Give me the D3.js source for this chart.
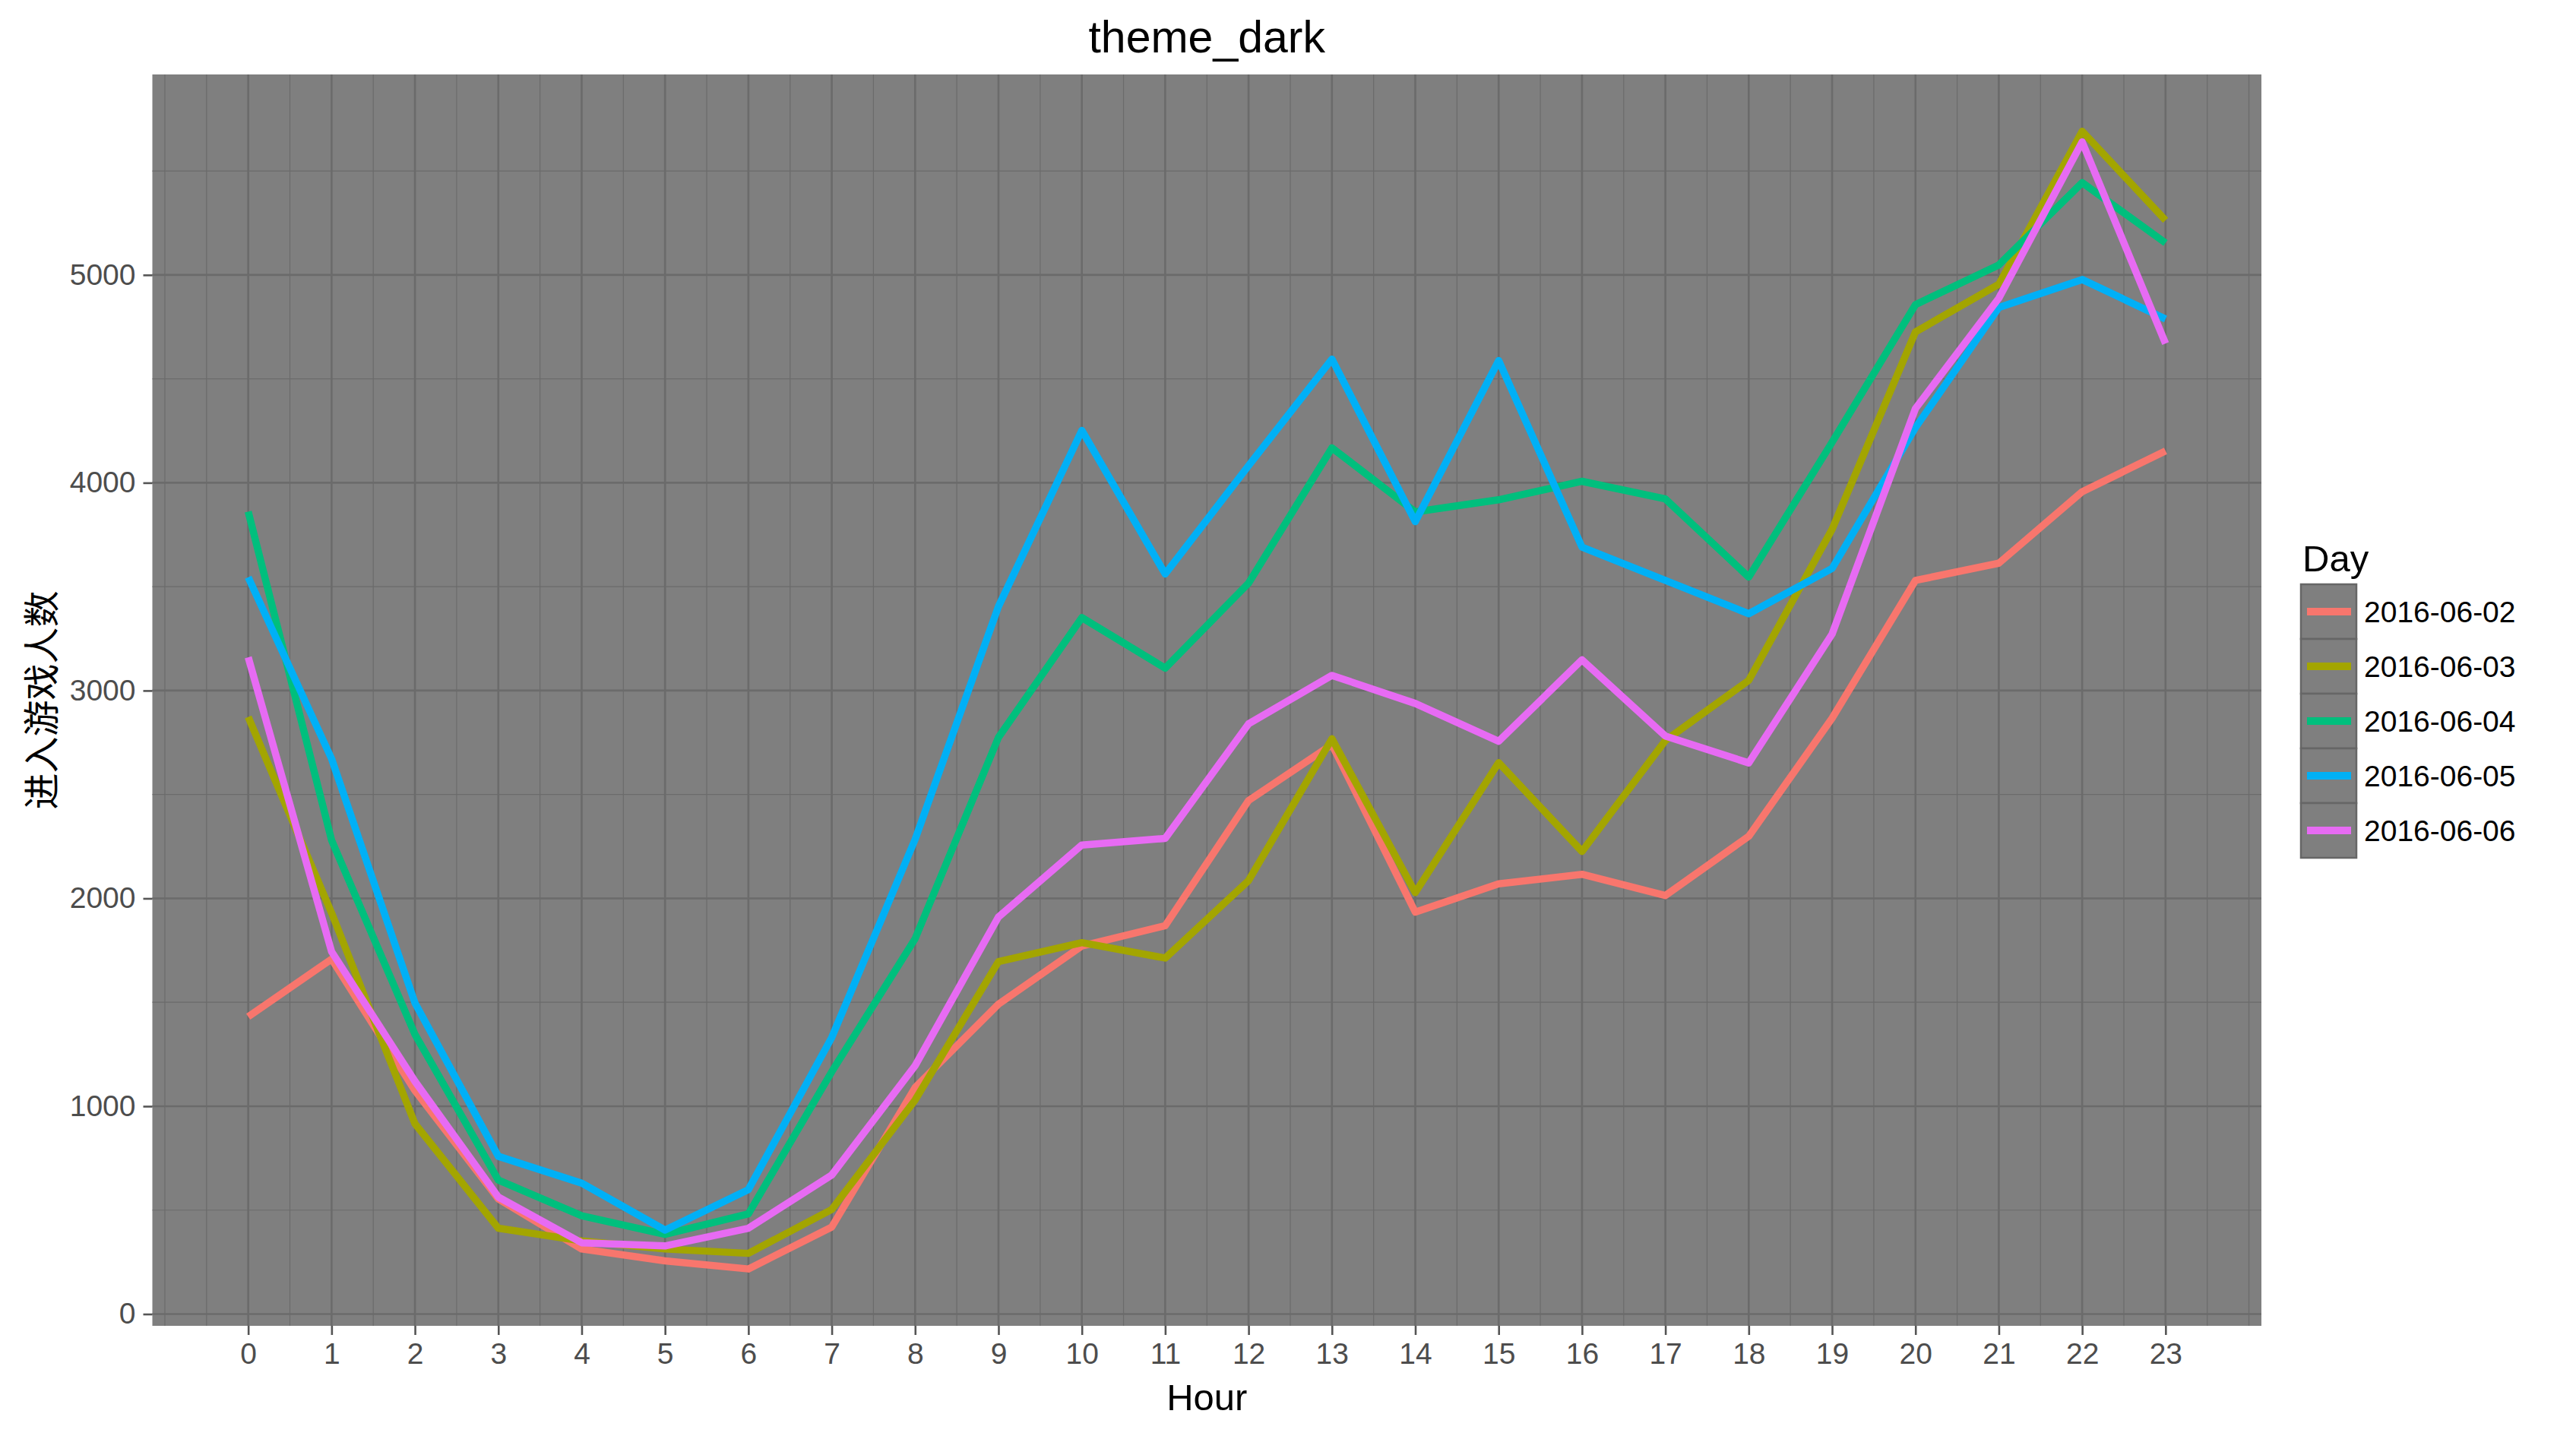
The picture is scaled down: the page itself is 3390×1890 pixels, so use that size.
<!DOCTYPE html>
<html>
<head>
<meta charset="utf-8">
<script src="https://cdn.jsdelivr.net/npm/d3@7"></script>
<style>
  body { margin: 0; background: #fff; }
  text { font-family: "Liberation Sans", Arial, sans-serif; }
</style>
</head>
<body>
<div id="chart"></div>
<script>
// Chart data
const hours = [0, 1, 2, 3, 4, 5, 6, 7, 8, 9, 10, 11, 12, 13, 14, 15, 16, 17, 18, 19, 20, 21, 22, 23];
const days = ["2016-06-02", "2016-06-03", "2016-06-04", "2016-06-05", "2016-06-06"];
const dayColors = ["#F8766D", "#A3A500", "#00BF7D", "#00B0F6", "#E76BF3"];

const day0602 = [1431, 1708, 1075, 554, 313, 256, 217, 419, 1090, 1491, 1771, 1869, 2471, 2740, 1934, 2070, 2116, 2014, 2299, 2867, 3530, 3613, 3957, 4153];
const day0603 = [2873, 1930, 916, 413, 352, 313, 292, 503, 1030, 1696, 1787, 1713, 2086, 2768, 2028, 2653, 2226, 2760, 3049, 3776, 4726, 4955, 5691, 5263];
const day0604 = [3861, 2280, 1346, 645, 473, 383, 482, 1166, 1806, 2775, 3351, 3108, 3517, 4168, 3860, 3918, 4007, 3922, 3546, 4195, 4857, 5048, 5444, 5154];
const day0605 = [3545, 2672, 1497, 759, 630, 404, 599, 1331, 2284, 3405, 4252, 3561, 4082, 4595, 3813, 4588, 3690, 3530, 3370, 3588, 4265, 4843, 4978, 4788];
const day0606 = [3160, 1744, 1120, 563, 343, 328, 413, 669, 1195, 1911, 2257, 2289, 2840, 3073, 2938, 2756, 3148, 2781, 2652, 3272, 4357, 4888, 5640, 4670];

const seriesValues = [day0602, day0603, day0604, day0605, day0606];
const yTicks = [0, 1000, 2000, 3000, 4000, 5000];

const titleText = "theme_dark";
const xTitle = "Hour";
const yTitle = "进入游戏人数";
const legendTitle = "Day";

// Layout
const width = 3390, height = 1890;
const panel = { left: 200.5, right: 2976, top: 98, bottom: 1745 };

const svg = d3.select("#chart").append("svg")
    .attr("width", width)
    .attr("height", height)
    .style("display", "block");

svg.append("rect").attr("width", width).attr("height", height).attr("fill", "#ffffff");

// ggplot style expansion: 5% on each side
function expand(ext) {
    const pad = (ext[1] - ext[0]) * 0.05;
    return [ext[0] - pad, ext[1] + pad];
}

const allValues = seriesValues.flat();
const x = d3.scaleLinear()
    .domain(expand(d3.extent(hours)))
    .range([panel.left, panel.right]);
const y = d3.scaleLinear()
    .domain(expand(d3.extent(allValues)))
    .range([panel.bottom, panel.top]);

// minor breaks: halfway between majors, extended one step past the ends
function minorBreaks(major, scale) {
    const step = major[1] - major[0];
    const ext = [major[0] - step].concat(major, [major[major.length - 1] + step]);
    const out = [];
    for (let i = 0; i < ext.length - 1; i++) {
        out.push(ext[i], (ext[i] + ext[i + 1]) / 2);
    }
    out.push(ext[ext.length - 1]);
    const dom = scale.domain();
    return out.filter(v => v >= dom[0] && v <= dom[1]);
}

// Panel background
svg.append("rect")
    .attr("x", panel.left)
    .attr("y", panel.top)
    .attr("width", panel.right - panel.left)
    .attr("height", panel.bottom - panel.top)
    .attr("fill", "#7f7f7f");

const grid = svg.append("g");
const gridColor = "#6b6b6b";

// minor grid
grid.selectAll(".xminor")
    .data(minorBreaks(hours, x))
    .join("line")
    .attr("x1", d => x(d)).attr("x2", d => x(d))
    .attr("y1", panel.top).attr("y2", panel.bottom)
    .attr("stroke", gridColor).attr("stroke-width", 1.2);

grid.selectAll(".yminor")
    .data(minorBreaks(yTicks, y))
    .join("line")
    .attr("x1", panel.left).attr("x2", panel.right)
    .attr("y1", d => y(d)).attr("y2", d => y(d))
    .attr("stroke", gridColor).attr("stroke-width", 1.2);

// major grid
grid.selectAll(".xmajor")
    .data(hours)
    .join("line")
    .attr("class", "xmajor")
    .attr("x1", d => x(d)).attr("x2", d => x(d))
    .attr("y1", panel.top).attr("y2", panel.bottom)
    .attr("stroke", gridColor).attr("stroke-width", 2.6);

grid.selectAll(".ymajor")
    .data(yTicks)
    .join("line")
    .attr("class", "ymajor")
    .attr("x1", panel.left).attr("x2", panel.right)
    .attr("y1", d => y(d)).attr("y2", d => y(d))
    .attr("stroke", gridColor).attr("stroke-width", 2.6);

// Lines
const line = d3.line()
    .x((d, i) => x(hours[i]))
    .y(d => y(d));

svg.append("g")
    .selectAll("path")
    .data(seriesValues)
    .join("path")
    .attr("d", line)
    .attr("fill", "none")
    .attr("stroke", (d, i) => dayColors[i])
    .attr("stroke-width", 9.5)
    .attr("stroke-linejoin", "round")
    .attr("stroke-linecap", "butt");

// Axes
const xAxis = d3.axisBottom(x).tickValues(hours).tickSize(12).tickPadding(10).tickFormat(d3.format("d"));
const yAxis = d3.axisLeft(y).tickValues(yTicks).tickSize(12).tickPadding(10).tickFormat(d3.format("d"));

const gx = svg.append("g")
    .attr("transform", `translate(0,${panel.bottom})`)
    .call(xAxis);
const gy = svg.append("g")
    .attr("transform", `translate(${panel.left},0)`)
    .call(yAxis);

[gx, gy].forEach(g => {
    g.select(".domain").remove();
    g.selectAll(".tick line").attr("stroke", "#555555").attr("stroke-width", 2.6);
    g.selectAll(".tick text")
        .attr("fill", "#4d4d4d")
        .style("font-family", "'Liberation Sans', Arial, sans-serif")
        .style("font-size", "39px");
});
gx.selectAll(".tick text").attr("dy", "0.71em");

// Titles
svg.append("text")
    .attr("x", (panel.left + panel.right) / 2)
    .attr("y", 69)
    .attr("text-anchor", "middle")
    .style("font-size", "59px")
    .attr("fill", "#000")
    .text(titleText);

svg.append("text")
    .attr("x", (panel.left + panel.right) / 2)
    .attr("y", 1856)
    .attr("text-anchor", "middle")
    .style("font-size", "49px")
    .attr("fill", "#000")
    .text(xTitle);

svg.append("text")
    .attr("transform", `translate(72,${(panel.top + panel.bottom) / 2}) rotate(-90)`)
    .attr("text-anchor", "middle")
    .style("font-family", "'Noto Sans CJK SC', sans-serif")
    .style("font-size", "48px")
    .attr("fill", "#000")
    .text(yTitle);

// Legend
const legendX = 3028, legendTop = 769, keySize = 72, keyW = 73;

svg.append("text")
    .attr("x", legendX + 2)
    .attr("y", 752)
    .style("font-size", "49px")
    .attr("fill", "#000")
    .text(legendTitle);

const legend = svg.append("g")
    .selectAll("g")
    .data(days)
    .join("g")
    .attr("transform", (d, i) => `translate(${legendX},${legendTop + i * keySize})`);

legend.append("rect")
    .attr("width", keyW)
    .attr("height", keySize)
    .attr("fill", "#7f7f7f")
    .attr("stroke", "#666666")
    .attr("stroke-width", 2.5);

legend.append("line")
    .attr("x1", 8).attr("x2", keyW - 7)
    .attr("y1", keySize / 2).attr("y2", keySize / 2)
    .attr("stroke", (d, i) => dayColors[i])
    .attr("stroke-width", 10);

legend.append("text")
    .attr("x", keyW + 10)
    .attr("y", keySize / 2)
    .attr("dy", "0.36em")
    .style("font-size", "39px")
    .attr("fill", "#000")
    .text(d => d);
</script>
</body>
</html>
